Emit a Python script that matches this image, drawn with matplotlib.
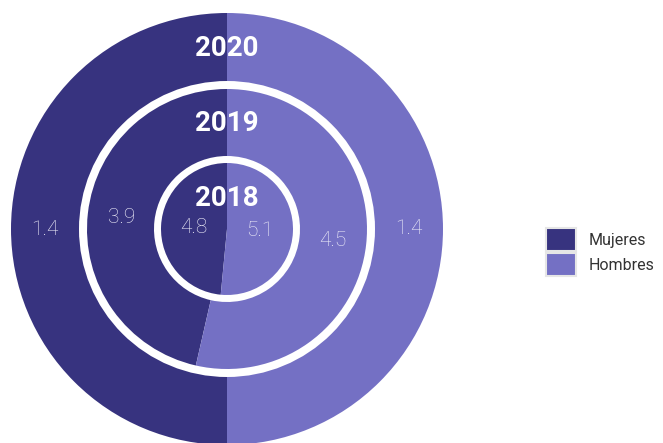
import matplotlib.pyplot as plt
from matplotlib.patches import Patch

# datos
series = ["Mujeres", "Hombres"]
years = ["2018", "2019", "2020"]
v2018 = [4.8, 5.1]
v2019 = [3.9, 4.5]
v2020 = [1.4, 1.4]

colors = ["#37337f", "#7470c4"]
lbl_color = "#f0effa"

fig = plt.figure(figsize=(6.63, 4.43), dpi=100)
ax = fig.add_axes([0, 0, 1, 1])

cx, cy = 227, 214


def fmt(vals):
    tot = sum(vals)
    return lambda p: "{:.1f}".format(p * tot / 100)


num_font = dict(color=lbl_color, fontsize=15, family="Roboto", fontweight="light")

# anillo exterior 2020
ax.pie(v2020, colors=colors, startangle=90, radius=216, center=(cx, cy),
       wedgeprops=dict(width=68, linewidth=0), autopct=fmt(v2020),
       pctdistance=182 / 216, textprops=num_font, frame=True)
# anillo medio 2019
ax.pie(v2019, colors=colors, startangle=90, radius=140, center=(cx, cy),
       wedgeprops=dict(width=67, linewidth=0), autopct=fmt(v2019),
       pctdistance=106.5 / 140, textprops=num_font, frame=True)
# centro 2018
ax.pie(v2018, colors=colors, startangle=90, radius=66, center=(cx, cy),
       wedgeprops=dict(linewidth=0), autopct=fmt(v2018),
       pctdistance=0.5, textprops=num_font, frame=True)

ax.set_aspect("equal")
ax.set_xlim(0, 663)
ax.set_ylim(0, 443)
ax.axis("off")

yr_y = [245, 320, 395]
for yr, yy in zip(years, yr_y):
    ax.text(cx, yy, yr, color="white", fontsize=20, fontweight="bold",
            family="Roboto", ha="center", va="center")

handles = [Patch(facecolor=c, edgecolor="#e6e6e6", linewidth=1.5) for c in colors]
leg = ax.legend(handles, series, loc="center left", bbox_to_anchor=(546 / 663, 1 - 252 / 443),
                frameon=False, handlelength=1.85, handleheight=1.85, borderpad=0,
                borderaxespad=0, labelspacing=0.12, handletextpad=0.85,
                prop=dict(family="Roboto", size=11.5))
for txt in leg.get_texts():
    txt.set_color("#333333")

fig.savefig("out.png", dpi=100)
